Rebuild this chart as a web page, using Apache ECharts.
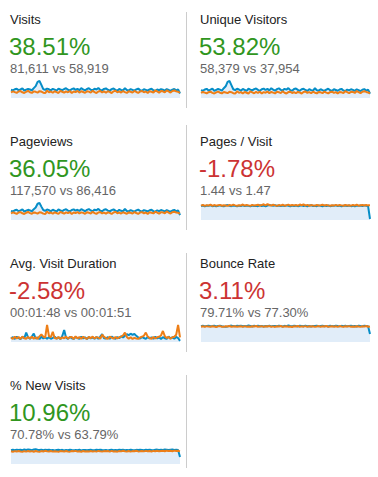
<!DOCTYPE html>
<html><head><meta charset="utf-8">
<script src="https://cdn.jsdelivr.net/npm/echarts@6/dist/echarts.min.js"></script>
<style>html,body{margin:0;padding:0;background:#fff}#c{width:378px;height:477px}</style>
</head><body><div id="c"></div>
<script>
const metricNames = ['Visits','Unique Visitors','Pageviews','Pages / Visit','Avg. Visit Duration','Bounce Rate','% New Visits'];
const changeLabels = ['38.51%','53.82%','36.05%','-1.78%','-2.58%','3.11%','10.96%'];
const compareLabels = ['81,611 vs 58,919','58,379 vs 37,954','117,570 vs 86,416','1.44 vs 1.47','00:01:48 vs 00:01:51','79.71% vs 77.30%','70.78% vs 63.79%'];
const isGood = [true,true,true,false,false,false,true];

const visitsCur = [860,800,920,980,830,900,1010,790,880,960,
900,820,1040,1250,1700,1790,1380,940,850,990,
920,810,960,880,780,990,900,820,950,1020,
870,790,930,1010,860,970,820,1040,900,800,
950,1030,870,810,980,900,1060,850,800,960,
1010,870,780,930,1000,860,770,950,850,800,
1040,840,790,930,850,770,900,990,830,760,
930,860,780,910,980,820,760,890,820,940,
870,780,930,840,760,880,950,810,900,470];
const visitsPrev = [580,700,620,540,680,730,600,530,660,750,
610,540,700,650,570,720,680,560,520,780,
600,690,550,710,620,530,760,660,560,700,
600,740,530,690,620,750,570,710,630,540,
720,670,570,770,620,530,690,740,590,690,
560,710,640,520,700,770,600,690,570,730,
620,540,700,660,570,750,630,540,690,740,
600,690,530,710,660,580,790,690,560,740,
700,590,810,690,570,740,790,700,650,560];

const uniqueCur = [610,560,660,710,580,650,730,550,630,700,
650,580,760,910,1250,1320,1000,680,610,720,
660,570,700,630,550,720,650,590,690,740,
630,560,680,730,620,710,590,760,650,570,
690,750,630,580,710,650,770,610,570,700,
740,630,560,680,720,620,550,690,610,580,
760,600,570,680,610,550,650,720,600,540,
680,620,560,660,710,590,540,650,590,680,
630,560,670,610,540,640,690,580,650,330];
const uniquePrev = [390,470,420,360,450,490,400,350,440,500,
410,360,470,430,380,480,450,370,340,520,
400,460,360,470,410,350,510,440,370,470,
400,490,350,460,410,500,380,470,420,360,
480,450,380,520,410,350,460,490,390,460,
370,470,430,340,470,510,400,460,380,490,
410,360,470,440,380,500,420,360,460,490,
400,460,350,470,440,390,530,460,370,490,
470,390,540,460,380,490,530,470,430,370];

const pageviewsCur = [1260,1180,1340,1420,1220,1330,1460,1170,1300,1410,
1330,1210,1500,1720,2250,2350,1850,1380,1260,1450,
1370,1200,1420,1300,1180,1450,1340,1230,1400,1480,
1290,1190,1380,1470,1290,1420,1240,1500,1350,1210,
1400,1510,1310,1220,1430,1340,1540,1270,1200,1410,
1480,1300,1190,1370,1460,1290,1170,1400,1270,1210,
1520,1250,1190,1370,1260,1170,1330,1440,1240,1160,
1370,1280,1190,1350,1420,1230,1160,1330,1220,1380,
1300,1180,1360,1250,1160,1310,1390,1210,1330,680];
const pageviewsPrev = [900,1060,960,850,1030,1090,930,830,1000,1110,
950,860,1050,990,890,1070,1030,880,820,1150,
930,1040,870,1060,960,840,1120,1000,880,1050,
940,1090,830,1030,960,1100,900,1060,980,850,
1080,1010,890,1140,960,840,1030,1090,920,1030,
870,1060,980,830,1040,1130,930,1030,890,1080,
960,860,1050,1000,890,1100,970,850,1030,1090,
930,1030,850,1060,1000,910,1150,1030,870,1090,
1050,930,1180,1030,890,1090,1150,1040,990,900];

const pagesCur = [1.42,1.47,1.39,1.46,1.43,1.49,1.40,1.45,1.38,1.43,
1.48,1.41,1.39,1.46,1.51,1.44,1.40,1.47,1.43,1.38,
1.45,1.41,1.48,1.40,1.46,1.43,1.39,1.47,1.41,1.45,
1.40,1.49,1.42,1.46,1.39,1.47,1.52,1.48,1.44,1.50,
1.42,1.47,1.40,1.46,1.41,1.48,1.43,1.39,1.46,1.41,
1.47,1.40,1.44,1.49,1.42,1.46,1.39,1.47,1.50,1.42,
1.45,1.40,1.48,1.43,1.39,1.46,1.41,1.47,1.40,1.45,
1.43,1.48,1.41,1.46,1.39,1.44,1.47,1.41,1.46,1.40,
1.45,1.39,1.47,1.43,1.46,1.40,1.48,1.44,1.41,0.10];
const pagesPrev = [1.45,1.52,1.43,1.50,1.47,1.55,1.44,1.51,1.45,1.49,
1.53,1.44,1.50,1.47,1.43,1.52,1.46,1.55,1.48,1.44,
1.50,1.46,1.57,1.45,1.51,1.48,1.43,1.53,1.46,1.50,
1.54,1.45,1.51,1.59,1.49,1.60,1.52,1.46,1.54,1.48,
1.44,1.51,1.46,1.54,1.45,1.50,1.56,1.46,1.52,1.48,
1.51,1.45,1.57,1.49,1.58,1.46,1.53,1.44,1.51,1.48,
1.45,1.52,1.46,1.50,1.55,1.45,1.51,1.48,1.44,1.50,
1.46,1.53,1.45,1.51,1.48,1.44,1.52,1.46,1.50,1.45,
1.51,1.46,1.54,1.45,1.50,1.52,1.46,1.51,1.48,1.49];

const durationCur = [95,135,85,145,110,80,140,105,260,130,
90,150,235,95,125,82,145,100,130,88,
135,90,115,150,95,130,80,165,330,120,
88,140,105,85,135,115,90,145,98,130,
84,138,102,125,90,142,88,150,215,105,
96,135,86,148,112,90,140,102,160,125,
175,215,190,230,200,220,170,125,95,140,
110,85,140,100,128,88,145,96,130,82,
135,105,86,150,98,130,90,140,110,30];
const durationPrev = [125,85,145,95,135,88,150,105,92,140,
100,145,90,130,84,155,210,150,125,470,
160,135,280,110,92,140,86,130,100,150,
92,130,140,84,155,100,135,90,145,110,
86,140,105,150,95,135,120,90,200,140,
105,85,145,120,92,140,100,130,150,180,
260,140,90,130,84,115,98,88,125,150,
170,260,150,110,90,140,100,130,145,180,
305,160,110,140,90,130,145,200,470,130];

const bounceCur = [0.790,0.812,0.782,0.805,0.818,0.786,0.800,0.815,0.778,0.803,
0.810,0.788,0.772,0.768,0.780,0.802,0.820,0.795,0.783,0.809,
0.798,0.815,0.784,0.804,0.792,0.822,0.800,0.778,0.810,0.794,
0.813,0.785,0.799,0.775,0.804,0.790,0.816,0.781,0.806,0.797,
0.788,0.818,0.800,0.776,0.808,0.792,0.822,0.797,0.783,0.812,
0.795,0.780,0.810,0.799,0.785,0.817,0.792,0.803,0.774,0.806,
0.797,0.812,0.782,0.801,0.815,0.788,0.805,0.777,0.810,0.794,
0.786,0.818,0.798,0.781,0.808,0.792,0.814,0.783,0.800,0.810,
0.790,0.804,0.777,0.816,0.797,0.785,0.811,0.798,0.782,0.400];
const bouncePrev = [0.765,0.785,0.755,0.792,0.770,0.760,0.788,0.775,0.750,0.782,
0.795,0.766,0.757,0.786,0.772,0.798,0.762,0.779,0.790,0.758,
0.775,0.787,0.754,0.794,0.768,0.780,0.760,0.789,0.771,0.800,
0.762,0.777,0.792,0.756,0.785,0.773,0.796,0.765,0.781,0.754,
0.787,0.771,0.803,0.760,0.776,0.791,0.765,0.779,0.752,0.789,
0.773,0.797,0.762,0.782,0.768,0.793,0.758,0.785,0.774,0.789,
0.757,0.776,0.795,0.766,0.786,0.771,0.800,0.760,0.779,0.791,
0.768,0.784,0.755,0.796,0.773,0.763,0.789,0.776,0.793,0.758,
0.779,0.767,0.791,0.774,0.757,0.788,0.770,0.797,0.766,0.778];

const newVisitsCur = [0.695,0.718,0.702,0.726,0.706,0.721,0.697,0.730,0.712,0.738,
0.720,0.701,0.733,0.742,0.722,0.707,0.728,0.698,0.716,0.704,
0.724,0.696,0.713,0.690,0.709,0.720,0.700,0.716,0.688,0.708,
0.698,0.717,0.703,0.690,0.712,0.699,0.719,0.689,0.706,0.714,
0.696,0.710,0.721,0.701,0.692,0.717,0.704,0.724,0.708,0.697,
0.715,0.690,0.709,0.721,0.699,0.711,0.694,0.719,0.705,0.716,
0.701,0.713,0.692,0.723,0.708,0.697,0.715,0.703,0.720,0.710,
0.699,0.717,0.706,0.724,0.712,0.701,0.718,0.728,0.709,0.721,
0.713,0.730,0.718,0.706,0.722,0.732,0.714,0.726,0.711,0.350];
const newVisitsPrev = [0.645,0.622,0.652,0.628,0.660,0.634,0.618,0.649,0.626,0.655,
0.631,0.651,0.621,0.662,0.637,0.623,0.653,0.630,0.666,0.643,
0.634,0.657,0.625,0.648,0.638,0.620,0.652,0.641,0.628,0.660,
0.635,0.624,0.654,0.640,0.665,0.631,0.646,0.622,0.657,0.633,
0.643,0.627,0.656,0.637,0.650,0.625,0.661,0.640,0.632,0.652,
0.641,0.658,0.628,0.664,0.634,0.648,0.624,0.654,0.639,0.668,
0.645,0.632,0.659,0.627,0.652,0.641,0.670,0.636,0.648,0.661,
0.638,0.665,0.642,0.655,0.633,0.662,0.650,0.672,0.640,0.657,
0.666,0.644,0.675,0.655,0.668,0.648,0.677,0.654,0.669,0.640];

const currentSeries = [visitsCur, uniqueCur, pageviewsCur, pagesCur, durationCur, bounceCur, newVisitsCur];
const previousSeries = [visitsPrev, uniquePrev, pageviewsPrev, pagesPrev, durationPrev, bouncePrev, newVisitsPrev];
const yMax = ['dataMax','dataMax','dataMax',1.72,'dataMax',0.85,0.86];

// layout
const FONT = '"Liberation Sans", Arial, Helvetica, sans-serif';
const colX = [10, 200];
const rowY = [0, 122, 244, 366];
const BLUE = '#058dc7', ORANGE = '#ed7e17', FILL = '#e1edf9';
const GREEN = '#30961e', RED = '#cc3333';

const grids = [], xAxes = [], yAxes = [], series = [], graphics = [];
metricNames.forEach((name, i) => {
  const cx = colX[i % 2], ry = rowY[Math.floor(i / 2)];
  grids.push({left: cx + 1, top: ry + 81, width: 169, height: 17, containLabel: false});
  xAxes.push({type: 'category', gridIndex: i, show: false, boundaryGap: false});
  yAxes.push({type: 'value', gridIndex: i, show: false, min: 0, max: yMax[i], splitLine: {show: false}});
  series.push({type: 'line', xAxisIndex: i, yAxisIndex: i, data: currentSeries[i], symbol: 'none',
    lineStyle: {color: BLUE, width: 2}, areaStyle: {color: FILL, opacity: 1}, z: 2});
  series.push({type: 'line', xAxisIndex: i, yAxisIndex: i, data: previousSeries[i], symbol: 'none',
    lineStyle: {color: ORANGE, width: 2}, z: 3});
  graphics.push({type: 'text', x: cx, y: ry + 19.5, style: {text: name, font: '13px ' + FONT, fill: '#222', verticalAlign: 'middle'}});
  graphics.push({type: 'text', x: cx - 1, y: ry + 46, style: {text: changeLabels[i], font: '24px ' + FONT, fill: isGood[i] ? GREEN : RED, verticalAlign: 'middle'}});
  graphics.push({type: 'text', x: cx, y: ry + 68, style: {text: compareLabels[i], font: '13px ' + FONT, fill: '#666', verticalAlign: 'middle'}});
});
[[12,108],[125,230],[253,352],[375,468]].forEach(s => {
  graphics.push({type: 'line', shape: {x1: 186.5, y1: s[0], x2: 186.5, y2: s[1]}, style: {stroke: '#cccccc', lineWidth: 1}});
});

const chart = echarts.init(document.getElementById('c'), null, {renderer: 'svg'});
chart.setOption({
  animation: false,
  backgroundColor: '#fff',
  grid: grids, xAxis: xAxes, yAxis: yAxes, series: series,
  graphic: graphics
});
</script>
</body></html>
